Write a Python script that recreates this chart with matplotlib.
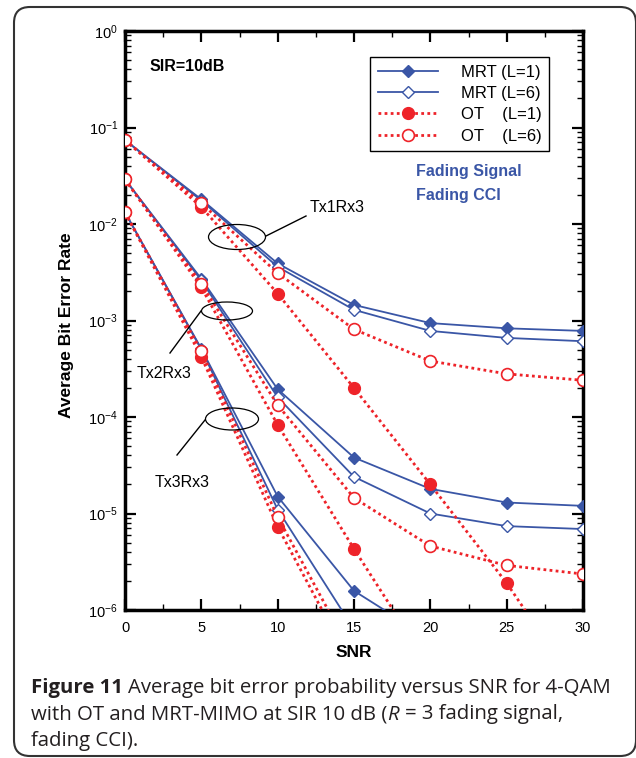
import numpy as np
import matplotlib
matplotlib.use('Agg')
import matplotlib.pyplot as plt
from matplotlib.patches import Ellipse, FancyBboxPatch
from matplotlib.ticker import LogLocator, MultipleLocator, NullFormatter

plt.rcParams['font.family'] = ['Liberation Sans', 'DejaVu Sans']
plt.rcParams['mathtext.fontset'] = 'custom'
plt.rcParams['mathtext.rm'] = 'Liberation Sans'

########################### data ####################################
snr = [0, 5, 10, 15, 20, 25, 30]
nan = np.nan

# Tx1Rx3
mrt1_l1 = [7.4e-2, 1.8e-2, 3.9e-3, 1.45e-3, 9.4e-4, 8.3e-4, 7.8e-4]
mrt1_l6 = [7.4e-2, 1.75e-2, 3.6e-3, 1.29e-3, 7.8e-4, 6.6e-4, 6.1e-4]
ot1_l1 = [7.4e-2, 1.5e-2, 1.9e-3, 2.0e-4, 2.0e-5, 1.9e-6, 1.3e-7]
ot1_l6 = [7.4e-2, 1.64e-2, 3.1e-3, 8.1e-4, 3.8e-4, 2.8e-4, 2.4e-4]

# Tx2Rx3
mrt2_l1 = [2.9e-2, 2.7e-3, 1.94e-4, 3.8e-5, 1.8e-5, 1.3e-5, 1.2e-5]
mrt2_l6 = [2.9e-2, 2.6e-3, 1.6e-4, 2.4e-5, 1.0e-5, 7.4e-6, 6.9e-6]
ot2_l1 = [2.9e-2, 2.2e-3, 8.3e-5, 4.3e-6, 2.5e-7, nan, nan]
ot2_l6 = [2.9e-2, 2.4e-3, 1.33e-4, 1.45e-5, 4.6e-6, 2.9e-6, 2.36e-6]

# Tx3Rx3
mrt3_l1 = [1.32e-2, 5.1e-4, 1.5e-5, 1.58e-6, 5.0e-7, nan, nan]
mrt3_l6 = [1.32e-2, 5.0e-4, 1.1e-5, 6.3e-7, nan, nan, nan]
ot3_l1 = [1.32e-2, 4.2e-4, 7.3e-6, 2.4e-7, nan, nan, nan]
ot3_l6 = [1.32e-2, 4.8e-4, 9.2e-6, 3.2e-7, nan, nan, nan]

legend_labels = ['MRT (L=1)', 'MRT (L=6)', 'OT    (L=1)', 'OT    (L=6)']
group_names = ['Tx1Rx3', 'Tx2Rx3', 'Tx3Rx3']

blue = '#3a56a6'
red = '#ee2329'

########################### figure ####################################
W, H = 636, 758
fig = plt.figure(figsize=(W/100, H/100), dpi=100)
ax = fig.add_axes([125/W, 1-610/H, 458/W, 579/H])

def fx(px):
    return (px - 125) / 458

def fy(py):
    return (610 - py) / 579

mrt_groups = [(mrt1_l1, mrt1_l6), (mrt2_l1, mrt2_l6), (mrt3_l1, mrt3_l6)]
ot_groups = [(ot1_l1, ot1_l6), (ot2_l1, ot2_l6), (ot3_l1, ot3_l6)]

for i, (l1, l6) in enumerate(mrt_groups):
    ax.plot(snr, l1, '-', color=blue, lw=1.3, marker='D', ms=6.5, mfc=blue, mec=blue,
            label=legend_labels[0] if i == 0 else None, zorder=3)
    ax.plot(snr, l6, '-', color=blue, lw=1.3, marker='D', ms=6.5, mfc='white', mec=blue,
            label=legend_labels[1] if i == 0 else None, zorder=3)
for i, (l1, l6) in enumerate(ot_groups):
    ax.plot(snr, l1, color=red, lw=2, ls=(0, (1, 1.2)), marker='o', ms=8.5, mfc=red, mec=red,
            label=legend_labels[2] if i == 0 else None, zorder=4)
    ax.plot(snr, l6, color=red, lw=2, ls=(0, (1, 1.2)), marker='o', ms=8.5, mfc='white', mec=red,
            mew=1.2, label=legend_labels[3] if i == 0 else None, zorder=4)

ax.set_yscale('log')
ax.set_xlim(0, 30)
ax.set_ylim(1e-6, 1)
ax.xaxis.set_major_locator(MultipleLocator(5))
ax.xaxis.set_minor_locator(MultipleLocator(2.5))
ax.yaxis.set_major_locator(LogLocator(base=10, numticks=10))
ax.yaxis.set_minor_locator(LogLocator(base=10, subs=np.arange(2, 10), numticks=20))
ax.yaxis.set_minor_formatter(NullFormatter())
ax.tick_params(which='both', direction='in', top=True, right=True, labelsize=10.5)
ax.tick_params(which='major', length=8, width=1.6)
ax.tick_params(which='minor', length=4, width=1)
ax.tick_params(axis='x', pad=8)
ax.tick_params(axis='y', pad=5)
for sp in ax.spines.values():
    sp.set_linewidth(2.5)

ax.set_xlabel('SNR', fontsize=12.5, fontweight='bold', labelpad=7)
ax.set_ylabel('Average Bit Error Rate', fontsize=12.5, fontweight='bold')
ax.yaxis.set_label_coords(-(125-74)/458, fy(325))

leg = ax.legend(loc='upper left', bbox_to_anchor=(fx(370), fy(57)), borderaxespad=0,
                fontsize=12, handlelength=3.6, handletextpad=1.4, labelspacing=0.38,
                fancybox=False, framealpha=1, edgecolor='black', borderpad=0.45)
leg.get_frame().set_linewidth(1)

ax.text(fx(150), fy(66), 'SIR=10dB', fontsize=11.5, fontweight='bold', va='center', transform=ax.transAxes)
ax.text(fx(416), fy(171), 'Fading Signal', fontsize=11.5, fontweight='bold', color=blue,
        va='center', transform=ax.transAxes)
ax.text(fx(416), fy(195), 'Fading CCI', fontsize=11.5, fontweight='bold', color=blue,
        va='center', transform=ax.transAxes)

# group annotations
ells = [(237, 237, 57, 25), (227, 311, 51, 18), (232, 419, 53, 22)]
leads = [((266, 236), (306, 216)), ((201, 311), (170, 353)), ((205, 420), (177, 455))]
text_pos = [(310, 207), (137, 373), (155, 482)]
for (cx, cy, w, h), (p0, p1), (tx, ty), name in zip(ells, leads, text_pos, group_names):
    ax.add_patch(Ellipse((fx(cx), fy(cy)), w/458, h/579, transform=ax.transAxes,
                         fill=False, ec='black', lw=0.9, zorder=5))
    ax.plot([fx(p0[0]), fx(p1[0])], [fy(p0[1]), fy(p1[1])], color='black', lw=1,
            transform=ax.transAxes, zorder=5)
    ax.text(fx(tx), fy(ty), name, fontsize=11.5, va='center', transform=ax.transAxes)

# outer rounded frame
box = FancyBboxPatch((14/W, 1-756/H), (W-14)/W, (756-7)/H, transform=fig.transFigure,
                     boxstyle='round,pad=0,rounding_size=0.025', mutation_aspect=W/H,
                     fill=False, ec='#333333', lw=1.5)
fig.add_artist(box)

# caption, written run by run (bold / normal / italic)
cap_fs = 14.7
cap_font = 'Open Sans'
cap_col = '#231f20'
rend = fig.canvas.get_renderer()

def measure(s, **kw):
    t = fig.text(0, 0, s, fontsize=cap_fs, family=cap_font, **kw)
    w = t.get_window_extent(rend).width
    t.remove()
    return w

space = measure('a a') - measure('aa')

caption_lines = [
    [('Figure 11', 'bold', 'normal', False),
     ('Average bit error probability versus SNR for 4-QAM', 'normal', 'normal', True)],
    [('with OT and MRT-MIMO at SIR 10 dB (', 'normal', 'normal', False),
     ('R', 'normal', 'italic', False),
     ('= 3 fading signal,', 'normal', 'normal', True)],
    [('fading CCI).', 'normal', 'normal', False)],
]
baselines = [693, 719.5, 746]
for runs, base in zip(caption_lines, baselines):
    x = 31
    for s, weight, style, lead in runs:
        if lead:
            x += space
        t = fig.text(x/W, 1-base/H, s, fontsize=cap_fs, family=cap_font, fontweight=weight,
                     style=style, color=cap_col, va='baseline', ha='left')
        x = t.get_window_extent(rend).x1 + (1 if style == 'italic' else 0)

fig.savefig('out.png', dpi=100)
